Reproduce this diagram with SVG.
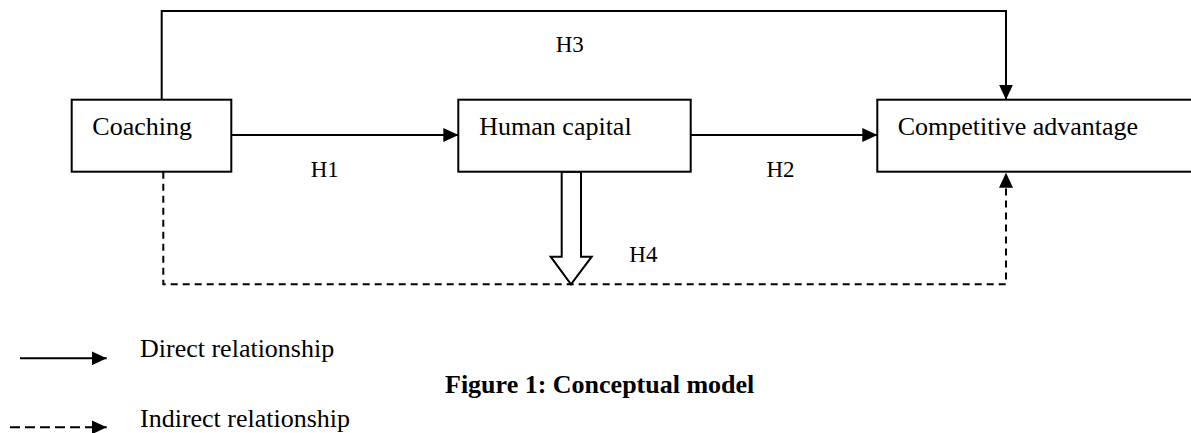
<svg xmlns="http://www.w3.org/2000/svg" width="1191" height="433" viewBox="0 0 1191 433">
  <style>
    .box { fill: #fff; stroke: #000; stroke-width: 2; }
    .label { font-family: "Liberation Serif", "Times New Roman", serif; font-size: 26px; fill: #000; }
    .hyp { font-family: "Liberation Serif", "Times New Roman", serif; font-size: 23px; fill: #000; }
    .caption { font-family: "Liberation Serif", "Times New Roman", serif; font-size: 26px; font-weight: bold; fill: #000; }
    .line { fill: none; stroke: #000; stroke-width: 2; }
    .dashed { fill: none; stroke: #000; stroke-width: 2; stroke-dasharray: 7 5; }
    .dashed-legend { fill: none; stroke: #000; stroke-width: 2; stroke-dasharray: 10 5; }
  </style>
  <defs>
    <marker id="head" markerUnits="userSpaceOnUse" markerWidth="15" markerHeight="14" refX="15" refY="7" orient="auto">
      <path d="M0,0 L15,7 L0,14 Z" fill="#000" stroke="none"/>
    </marker>
  </defs>
  <rect width="1191" height="433" fill="#fff"/>

  <!-- connectors -->
  <g id="connectors">
    <!-- H3: Coaching over the top to Competitive advantage -->
    <path class="line" d="M161.7,99.7 V11 H1006 V99.7" marker-end="url(#head)"/>
    <!-- H1 -->
    <path class="line" d="M231.3,135 H458.3" marker-end="url(#head)"/>
    <!-- H2 -->
    <path class="line" d="M690.7,135 H877.3" marker-end="url(#head)"/>
    <!-- H4: indirect path underneath -->
    <path class="dashed" d="M163.3,171.7 V284.3 H1006 V172.7" marker-end="url(#head)"/>
    <!-- mediation block arrow from Human capital -->
    <polygon class="box" points="561.7,171.7 581,171.7 581,256.7 591.7,256.7 571,284.3 550.7,256.7 561.7,256.7"/>
  </g>

  <!-- nodes -->
  <g id="coaching">
    <rect class="box" x="71.7" y="99.7" width="159.6" height="72"/>
    <text class="label" x="92.3" y="135">Coaching</text>
  </g>
  <g id="human-capital">
    <rect class="box" x="458.3" y="99.7" width="232.4" height="72"/>
    <text class="label" x="479.3" y="135">Human capital</text>
  </g>
  <g id="competitive-advantage">
    <rect class="box" x="877.3" y="99.7" width="320" height="72"/>
    <text class="label" x="897.7" y="135">Competitive advantage</text>
  </g>

  <!-- hypothesis labels -->
  <g id="hypotheses">
    <text class="hyp" x="310.7" y="176.7">H1</text>
    <text class="hyp" x="766.5" y="176.7">H2</text>
    <text class="hyp" x="555.7" y="51.7">H3</text>
    <text class="hyp" x="629.3" y="261.7">H4</text>
  </g>

  <!-- legend -->
  <g id="legend">
    <path class="line" d="M20,358.3 H106.7" marker-end="url(#head)"/>
    <text class="label" x="140" y="356.7">Direct relationship</text>
    <path class="dashed-legend" d="M10,427.3 H106.7" marker-end="url(#head)"/>
    <text class="label" x="140" y="427">Indirect relationship</text>
  </g>

  <text class="caption" x="445" y="392.5">Figure 1: Conceptual model</text>
</svg>
